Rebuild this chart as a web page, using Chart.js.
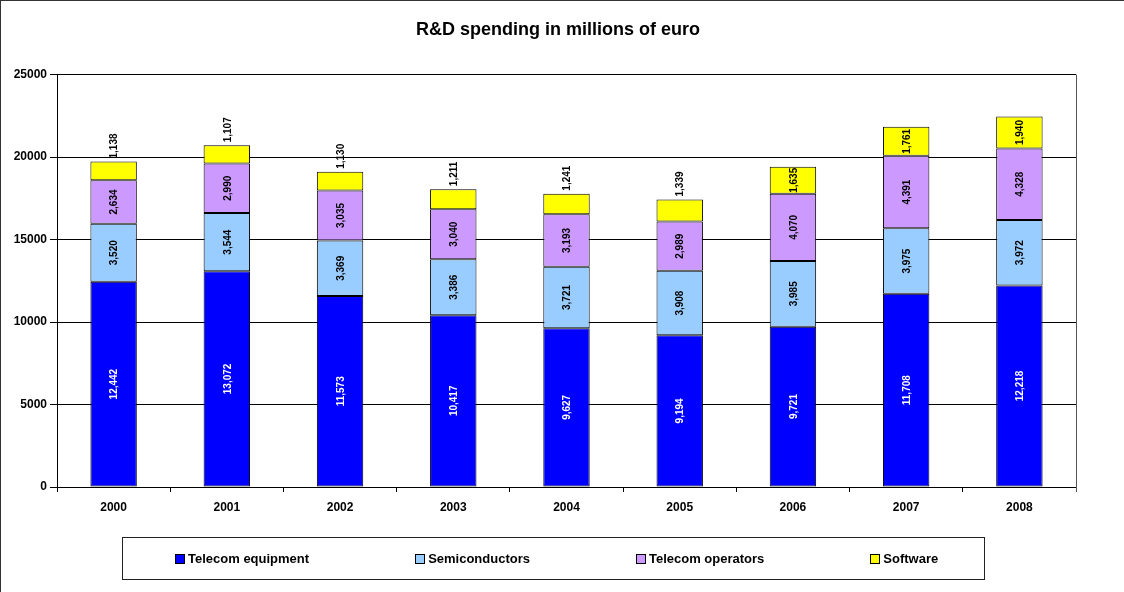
<!DOCTYPE html>
<html lang="en">
<head>
    <meta charset="UTF-8">
    <title>R&amp;D spending in millions of euro</title>
    <script src="https://cdn.jsdelivr.net/npm/chart.js"></script>
    <style>
        html, body { margin: 0; padding: 0; background: #fff; }
        .wrap { position: relative; width: 1124px; height: 592px; overflow: hidden; }
        .frame { position: absolute; left: 0; top: 0; width: 1124px; height: 592px; box-sizing: border-box;
                 border-left: 1px solid #333; border-top: 1px solid #333; pointer-events: none; }
        .legend { position: absolute; left: 122px; top: 537px; width: 863px; height: 43px; box-sizing: border-box;
                  border: 1px solid #222; display: flex; align-items: center; padding-left: 52px; gap: 106px;
                  font: bold 13px "Liberation Sans", Arial, sans-serif; color: #000; }
        .legend span.item { display: flex; align-items: center; white-space: nowrap; }
        .legend span.box { display: inline-block; width: 8px; height: 8px; border: 1px solid #000; margin-right: 3px; }
    </style>
</head>
<body>
<div class="wrap">
    <canvas id="chart" width="1124" height="592"></canvas>
    <div class="legend" id="legend"></div>
    <div class="frame"></div>
</div>
<script>
    // data
    const years = ['2000', '2001', '2002', '2003', '2004', '2005', '2006', '2007', '2008'];
    const telecomEquipment = [12442, 13072, 11573, 10417, 9627, 9194, 9721, 11708, 12218];
    const semiconductors = [3520, 3544, 3369, 3386, 3721, 3908, 3985, 3975, 3972];
    const telecomOperators = [2634, 2990, 3035, 3040, 3193, 2989, 4070, 4391, 4328];
    const software = [1138, 1107, 1130, 1211, 1241, 1339, 1635, 1761, 1940];
    const yTicks = [0, 5000, 10000, 15000, 20000, 25000];

    const FONT = '"Liberation Sans", Arial, sans-serif';
    const LABEL_SIZE = 10;

    // rotated value labels, put above the bar when the segment is too short
    const barLabels = {
        id: 'barLabels',
        afterDatasetsDraw(chart) {
            const ctx = chart.ctx;
            ctx.save();
            ctx.font = 'bold ' + LABEL_SIZE + 'px ' + FONT;
            ctx.textAlign = 'center';
            ctx.textBaseline = 'middle';
            chart.data.datasets.forEach((ds, i) => {
                const meta = chart.getDatasetMeta(i);
                meta.data.forEach((bar, j) => {
                    const txt = ds.data[j].toLocaleString('en-US');
                    const w = ctx.measureText(txt).width;
                    const h = Math.abs(bar.base - bar.y);
                    let cy = (bar.y + bar.base) / 2;
                    let color = ds.labelColor;
                    if (h < LABEL_SIZE * 2.5) {
                        cy = bar.y - 3 - w / 2;
                        color = '#000';
                    }
                    ctx.save();
                    ctx.translate(bar.x, cy);
                    ctx.rotate(-Math.PI / 2);
                    ctx.fillStyle = color;
                    ctx.fillText(txt, 0, 1);
                    ctx.restore();
                });
            });
            ctx.restore();
        }
    };

    const plotBorder = {
        id: 'plotBorder',
        afterDraw(chart) {
            const a = chart.chartArea;
            const ctx = chart.ctx;
            ctx.save();
            ctx.strokeStyle = '#555';
            ctx.lineWidth = 1;
            ctx.beginPath();
            ctx.moveTo(Math.round(a.right) + 0.5, a.top);
            ctx.lineTo(Math.round(a.right) + 0.5, a.bottom + 5);
            ctx.stroke();
            ctx.restore();
        }
    };

    const chart = new Chart(document.getElementById('chart'), {
        type: 'bar',
        data: {
            labels: years,
            datasets: [
                { label: 'Telecom equipment', data: telecomEquipment, backgroundColor: '#0000FF', labelColor: '#fff' },
                { label: 'Semiconductors', data: semiconductors, backgroundColor: '#99CCFF', labelColor: '#000' },
                { label: 'Telecom operators', data: telecomOperators, backgroundColor: '#CC99FF', labelColor: '#000' },
                { label: 'Software', data: software, backgroundColor: '#FFFF00', labelColor: '#000' }
            ].map(d => Object.assign(d, {
                borderColor: '#000',
                borderWidth: 1,
                borderSkipped: false,
                barPercentage: 0.41,
                categoryPercentage: 1
            }))
        },
        options: {
            responsive: false,
            animation: false,
            layout: { padding: { left: 0, right: 8, top: 0, bottom: 0 } },
            plugins: {
                legend: { display: false },
                tooltip: { enabled: false },
                title: {
                    display: true,
                    text: 'R&D spending in millions of euro',
                    color: '#000',
                    font: { family: FONT, size: 18, weight: 'bold' },
                    padding: { top: 19, bottom: 34 }
                }
            },
            scales: {
                x: {
                    stacked: true,
                    afterFit: s => { s.height = 105; },
                    grid: { drawOnChartArea: false, drawTicks: true, tickLength: 5, color: '#000' },
                    border: { color: '#000', width: 1 },
                    ticks: { color: '#000', padding: 8, font: { family: FONT, size: 12, weight: 'bold' } }
                },
                y: {
                    stacked: true,
                    min: 0,
                    max: 25000,
                    afterFit: s => { s.width = 57; },
                    afterBuildTicks: s => { s.ticks = yTicks.map(v => ({ value: v })); },
                    grid: { color: '#000', tickLength: 7 },
                    border: { color: '#000', width: 1 },
                    ticks: {
                        color: '#000',
                        padding: 3,
                        font: { family: FONT, size: 12, weight: 'bold' },
                        callback: v => String(v)
                    }
                },
                // empty right-hand strip so the title stays centred on the whole picture
                yRight: {
                    position: 'right',
                    min: 0,
                    max: 25000,
                    afterFit: s => { s.width = 40; },
                    grid: { display: false },
                    border: { display: false },
                    ticks: { display: false }
                }
            }
        },
        plugins: [barLabels, plotBorder]
    });

    // legend built from the datasets
    const legend = document.getElementById('legend');
    chart.data.datasets.forEach(ds => {
        const item = document.createElement('span');
        item.className = 'item';
        item.innerHTML = '<span class="box" style="background:' + ds.backgroundColor + '"></span>' + ds.label;
        legend.appendChild(item);
    });
</script>
</body>
</html>
